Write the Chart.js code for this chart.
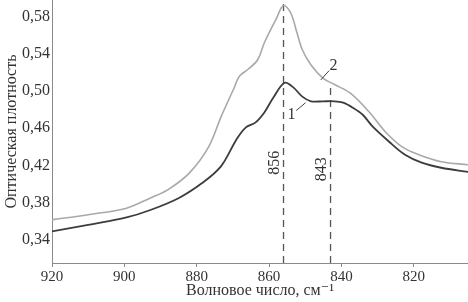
<!DOCTYPE html>
<html>
<head>
<meta charset="utf-8">
<script src="https://cdn.jsdelivr.net/npm/chart.js@4/dist/chart.umd.min.js"></script>
<style>
html, body { margin: 0; padding: 0; background: #fff; }
</style>
</head>
<body>
<canvas id="spectrumChart" width="468" height="302"></canvas>
<script>
// curve 1 (dark) and curve 2 (light), wavenumber in cm-1 vs optical density
const wn1 = [920, 910, 899.4, 892.8, 884.9, 878.5, 873.3, 869, 866.4, 863.8, 861.3, 858.8, 855.7, 853.3, 850.8, 848.4, 845.1, 841.9, 839.5, 836.8, 834.1, 831.4, 826.8, 822.4, 817.8, 812.4, 805];
const od1 = [0.349, 0.356, 0.364, 0.372, 0.385, 0.401, 0.419, 0.448, 0.461, 0.466, 0.477, 0.493, 0.509, 0.504, 0.494, 0.489, 0.489, 0.489, 0.4875, 0.482, 0.4745, 0.462, 0.4455, 0.4315, 0.423, 0.4175, 0.413];

const wn2 = [920, 910, 899.4, 892.8, 887.9, 882, 876.7, 873.3, 869.7, 868.2, 865.6, 863.1, 861.3, 858.1, 856, 854, 852.3, 850.8, 848.4, 845.1, 841.9, 837.6, 832.2, 827.8, 823.2, 818.6, 812.4, 805];
const od2 = [0.3615, 0.367, 0.374, 0.385, 0.394, 0.412, 0.44, 0.472, 0.503, 0.516, 0.524, 0.534, 0.552, 0.577, 0.592, 0.584, 0.563, 0.5445, 0.528, 0.514, 0.507, 0.498, 0.477, 0.456, 0.44, 0.4315, 0.424, 0.4207];

// dashed peak markers
const markerWn = [856, 843];
const markerTop = [0.598, 0.508];
const markerLabelOd = [0.423, 0.416];

const xTicks = [920, 900, 880, 860, 840, 820];
const yTicks = [0.34, 0.38, 0.42, 0.46, 0.50, 0.54, 0.58];

const yMin = 0.315;
const yMax = 0.598;

const serif = '"Liberation Serif", "DejaVu Serif", serif';
const textColor = '#333';
const axisColor = '#8a8a8a';

const toPoints = (xs, ys) => xs.map((v, i) => ({ x: v, y: ys[i] }));

const markerSets = markerWn.map((w, i) => ({
    data: [{ x: w, y: yMin }, { x: w, y: markerTop[i] }],
    borderColor: '#555',
    borderWidth: 1.3,
    borderDash: [7, 5],
    pointRadius: 0,
    tension: 0,
}));

// curve numbers with their leader lines
const curveNotes = [
    { text: '1', x: 853.8, y: 0.4745, from: [852.5, 0.479], to: [849.9, 0.4875] },
    { text: '2', x: 842.2, y: 0.527, from: [845.7, 0.512], to: [843.4, 0.522] },
];

const notesPlugin = {
    id: 'notes',
    afterDatasetsDraw(chart) {
        const { ctx, scales: { x, y } } = chart;
        ctx.save();
        ctx.font = '16px ' + serif;
        ctx.fillStyle = textColor;
        ctx.textAlign = 'center';
        ctx.textBaseline = 'middle';
        markerWn.forEach((w, i) => {
            ctx.save();
            ctx.translate(x.getPixelForValue(w) - 9, y.getPixelForValue(markerLabelOd[i]));
            ctx.rotate(-Math.PI / 2);
            ctx.fillText(String(w), 0, 0);
            ctx.restore();
        });
        ctx.strokeStyle = '#444';
        ctx.lineWidth = 1;
        curveNotes.forEach(n => {
            ctx.fillText(n.text, x.getPixelForValue(n.x), y.getPixelForValue(n.y));
            ctx.beginPath();
            ctx.moveTo(x.getPixelForValue(n.from[0]), y.getPixelForValue(n.from[1]));
            ctx.lineTo(x.getPixelForValue(n.to[0]), y.getPixelForValue(n.to[1]));
            ctx.stroke();
        });
        ctx.restore();
    }
};

const spectrumElem = document.getElementById('spectrumChart').getContext('2d');

const spectrumChart = new Chart(spectrumElem, {
    type: 'line',
    data: {
        datasets: [
            {
                label: '2',
                data: toPoints(wn2, od2),
                borderColor: '#a9a9a9',
                borderWidth: 1.6,
                pointRadius: 0,
                tension: 0.35,
            },
            {
                label: '1',
                data: toPoints(wn1, od1),
                borderColor: '#3c3c3c',
                borderWidth: 1.8,
                pointRadius: 0,
                tension: 0.35,
            },
            ...markerSets,
        ],
    },
    options: {
        responsive: false,
        animation: false,
        devicePixelRatio: 1,
        layout: { padding: 0 },
        plugins: {
            legend: { display: false },
            tooltip: { enabled: false },
        },
        scales: {
            x: {
                type: 'linear',
                reverse: true,
                min: 805,
                max: 920,
                afterBuildTicks: s => { s.ticks = xTicks.map(v => ({ value: v })); },
                afterFit: s => { s.height = 39; },
                ticks: {
                    font: { family: serif, size: 15 },
                    color: textColor,
                    padding: 1,
                    maxRotation: 0,
                    callback: v => String(v),
                },
                grid: { display: true, drawOnChartArea: false, drawTicks: true, tickLength: 4, color: axisColor },
                border: { display: true, color: axisColor, width: 1 },
                title: {
                    display: true,
                    text: 'Волновое число, см⁻¹',
                    font: { family: serif, size: 16 },
                    color: textColor,
                    padding: { top: 0, bottom: 2 },
                },
            },
            y: {
                type: 'linear',
                min: yMin,
                max: yMax,
                afterBuildTicks: s => { s.ticks = yTicks.map(v => ({ value: v })); },
                afterFit: s => { s.width = 52; s.paddingTop = 0; s.paddingBottom = 0; },
                ticks: {
                    font: { family: serif, size: 16 },
                    color: textColor,
                    padding: 2,
                    callback: v => v.toFixed(2).replace('.', ','),
                },
                grid: { display: false, drawTicks: false },
                border: { display: true, color: axisColor, width: 1 },
                title: {
                    display: true,
                    text: 'Оптическая плотность',
                    font: { family: serif, size: 16 },
                    color: textColor,
                    padding: { top: 2, bottom: 2 },
                },
            },
        },
    },
    plugins: [notesPlugin],
});
</script>
</body>
</html>
